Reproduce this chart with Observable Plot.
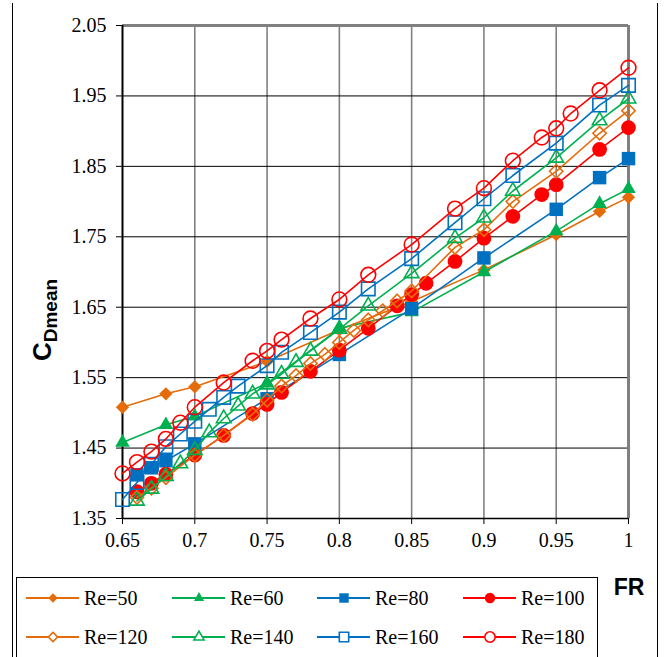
<!DOCTYPE html>
<html><head><meta charset="utf-8">
<script src="https://cdn.jsdelivr.net/npm/d3@7"></script>
<script src="https://cdn.jsdelivr.net/npm/@observablehq/plot@0.6"></script>
<style>
html,body{margin:0;padding:0;background:#fff;}
#wrap{position:relative;width:664px;height:657px;overflow:hidden;background:#fff;}
#chart{position:absolute;left:0;top:0;}
.frameL{position:absolute;left:12px;top:3px;width:0;height:700px;border-left:1px solid #000;}
.frameR{position:absolute;left:657px;top:3px;width:0;height:700px;border-left:1px solid #000;}
#ylab{position:absolute;left:-58px;top:300px;width:200px;height:40px;line-height:40px;text-align:center;transform:rotate(-90deg);font-family:'Liberation Sans';font-weight:bold;white-space:nowrap;}
#xlab{position:absolute;left:600px;top:574px;width:58px;text-align:center;font-family:'Liberation Sans';font-weight:bold;font-size:23px;}
#legend{position:absolute;left:16px;top:577px;width:580px;height:100px;border:1px solid #000;background:#fff;}
.item{position:absolute;display:flex;align-items:center;font-size:20px;white-space:nowrap;}
</style></head>
<body>
<div id="wrap">
  <div id="chart"></div>
  <div class="frameL"></div><div class="frameR"></div>
  <div id="ylab"><span style="font-size:26px">C</span><span style="font-size:19px;position:relative;top:6px">Dmean</span></div>
  <div id="xlab">FR</div>
  <div id="legend"></div>
</div>
<script>
// ---- data ----
const seriesNames = ["Re=50","Re=60","Re=80","Re=100","Re=120","Re=140","Re=160","Re=180"];
const x50 = [0.65,0.68,0.70,0.75,0.80,0.85,0.90,0.95,0.98,1.00];
const y50 = [1.508,1.527,1.537,1.573,1.618,1.658,1.703,1.753,1.786,1.806];
const x60 = [0.65,0.68,0.70,0.75,0.80,0.85,0.90,0.95,0.98,1.00];
const y60 = [1.458,1.483,1.495,1.542,1.620,1.643,1.700,1.758,1.797,1.818];
const x80 = [0.66,0.67,0.68,0.70,0.75,0.80,0.85,0.90,0.95,0.98,1.00];
const y80 = [1.412,1.422,1.432,1.456,1.520,1.583,1.648,1.720,1.789,1.834,1.861];
const x100 = [0.66,0.67,0.68,0.70,0.72,0.74,0.75,0.76,0.78,0.80,0.82,0.84,0.85,0.86,0.88,0.90,0.92,0.94,0.95,0.98,1.00];
const y100 = [1.388,1.400,1.413,1.440,1.468,1.499,1.512,1.529,1.559,1.589,1.620,1.652,1.668,1.684,1.715,1.748,1.779,1.810,1.824,1.874,1.905];
const x120 = [0.66,0.67,0.68,0.70,0.72,0.74,0.75,0.76,0.77,0.78,0.79,0.80,0.81,0.82,0.83,0.84,0.85,0.88,0.90,0.92,0.95,0.98,1.00];
const y120 = [1.380,1.393,1.408,1.440,1.468,1.498,1.518,1.538,1.553,1.570,1.583,1.600,1.617,1.632,1.645,1.659,1.673,1.735,1.760,1.800,1.843,1.897,1.929];
const x140 = [0.66,0.67,0.68,0.69,0.70,0.71,0.72,0.73,0.74,0.75,0.76,0.77,0.78,0.80,0.82,0.85,0.88,0.90,0.92,0.95,0.98,1.00];
const y140 = [1.375,1.392,1.410,1.428,1.447,1.472,1.492,1.510,1.527,1.540,1.555,1.572,1.588,1.619,1.652,1.698,1.748,1.777,1.815,1.862,1.915,1.946];
const x160 = [0.65,0.66,0.67,0.68,0.69,0.70,0.71,0.72,0.73,0.75,0.76,0.78,0.80,0.82,0.85,0.88,0.90,0.92,0.95,0.98,1.00];
const y160 = [1.377,1.401,1.427,1.452,1.470,1.488,1.505,1.522,1.538,1.567,1.586,1.614,1.643,1.676,1.719,1.770,1.804,1.837,1.883,1.937,1.965];
const x180 = [0.65,0.66,0.67,0.68,0.69,0.70,0.72,0.74,0.75,0.76,0.78,0.80,0.82,0.85,0.88,0.90,0.92,0.94,0.95,0.96,0.98,1.00];
const y180 = [1.414,1.430,1.445,1.463,1.486,1.508,1.543,1.574,1.588,1.604,1.634,1.661,1.696,1.739,1.790,1.819,1.858,1.891,1.904,1.925,1.958,1.990];

const xTicks = [0.65,0.70,0.75,0.80,0.85,0.90,0.95,1.00];
const xTickLabels = ["0.65","0.7","0.75","0.8","0.85","0.9","0.95","1"];
const yTicks = [1.35,1.45,1.55,1.65,1.75,1.85,1.95,2.05];
const yTickLabels = ["1.35","1.45","1.55","1.65","1.75","1.85","1.95","2.05"];

const colors = ["#E46C0A","#00B050","#0070C0","#FF0000","#E46C0A","#00B050","#0070C0","#FF0000"];
const symbols = ["diamond2","triangle","square","circle","diamond2","triangle","square","circle"];
const filled = [true,true,true,true,false,false,false,false];
const radii = {diamond2:6.0, triangle:5.4, square:7.6, circle:7.4};

const xsAll = [x50,x60,x80,x100,x120,x140,x160,x180];
const ysAll = [y50,y60,y80,y100,y120,y140,y160,y180];

const series = seriesNames.map((name,i)=>({
  name, color: colors[i], symbol: symbols[i], filled: filled[i],
  data: xsAll[i].map((x,j)=>({x, y: ysAll[i][j], s: name}))
}));

const seriesMarks = [];
for (const s of series) {
  seriesMarks.push(Plot.line(s.data, {x:"x", y:"y", stroke:s.color, strokeWidth:1.6}));
  seriesMarks.push(Plot.dot(s.data, {x:"x", y:"y", symbol:()=>s.symbol, r:radii[s.symbol],
    fill: s.filled ? s.color : "none", stroke: s.filled ? "none" : s.color, strokeWidth: s.filled ? 0 : 1.6}));
}

const chart = Plot.plot({
  width:664, height:657,
  marginLeft:122, marginRight:36, marginTop:25, marginBottom:139,
  x:{domain:[0.65,1.0]},
  y:{domain:[1.35,2.05]},
  symbol:{type:"identity"},
  style:{fontFamily:"Times New Roman", fontSize:"20px", color:"#000", background:"transparent"},
  marks:[
    Plot.gridX(xTicks.slice(1), {stroke:"#808080", strokeOpacity:1, strokeWidth:1.6}),
    Plot.gridY(yTicks.slice(1,-1), {stroke:"#000", strokeOpacity:1, strokeWidth:1}),
    Plot.ruleY([2.05], {stroke:"#808080", strokeWidth:3}),
    Plot.ruleX([1.0], {stroke:"#808080", strokeWidth:3}),
    Plot.axisX({ticks:xTicks, tickSize:6, tickPadding:8, tickFormat:(d)=>xTickLabels[xTicks.indexOf(d)], label:null, fontSize:20, fontFamily:"Times New Roman"}),
    Plot.axisY({ticks:yTicks, tickSize:6, tickPadding:10, tickFormat:(d)=>yTickLabels[yTicks.indexOf(d)], label:null, fontSize:20, fontFamily:"Times New Roman"}),
    Plot.ruleX([0.65], {stroke:"#000", strokeWidth:2}),
    Plot.ruleY([1.35], {stroke:"#000", strokeWidth:1.5}),
    ...seriesMarks
  ]
});
document.getElementById("chart").appendChild(chart);

// ---- legend ----
const legend = document.getElementById("legend");
legend.setAttribute("style", legend.getAttribute("style")||"");
const colLine = [9,155,300,446];
const rowY = [20,59];
series.forEach((s,i)=>{
  const col = i%4, row = Math.floor(i/4);
  const item = document.createElement("div");
  item.className = "item";
  item.setAttribute("style", "left:"+colLine[col]+"px;top:"+(rowY[row]-14)+"px;height:28px;font-family:'Times New Roman';");
  const ns = "http://www.w3.org/2000/svg";
  const svg = document.createElementNS(ns,"svg");
  svg.setAttribute("width","54"); svg.setAttribute("height","20");
  svg.style.marginRight = "4px";
  const ln = document.createElementNS(ns,"line");
  ln.setAttribute("x1","0"); ln.setAttribute("x2","53"); ln.setAttribute("y1","10"); ln.setAttribute("y2","10");
  ln.setAttribute("stroke", s.color); ln.setAttribute("stroke-width","1.8");
  svg.appendChild(ln);
  const symMap = {diamond2:d3.symbolDiamond2, triangle:d3.symbolTriangle, square:d3.symbolSquare, circle:d3.symbolCircle};
  const rr = radii[s.symbol]*0.7;
  const p = document.createElementNS(ns,"path");
  p.setAttribute("d", d3.symbol(symMap[s.symbol], rr*rr*Math.PI)());
  p.setAttribute("transform","translate(27,10)");
  p.setAttribute("fill", s.filled ? s.color : "#fff");
  p.setAttribute("stroke", s.filled ? "none" : s.color);
  p.setAttribute("stroke-width","1.6");
  svg.appendChild(p);
  item.appendChild(svg);
  const t = document.createElement("span");
  t.textContent = s.name;
  item.appendChild(t);
  legend.appendChild(item);
});
</script>
</body></html>
